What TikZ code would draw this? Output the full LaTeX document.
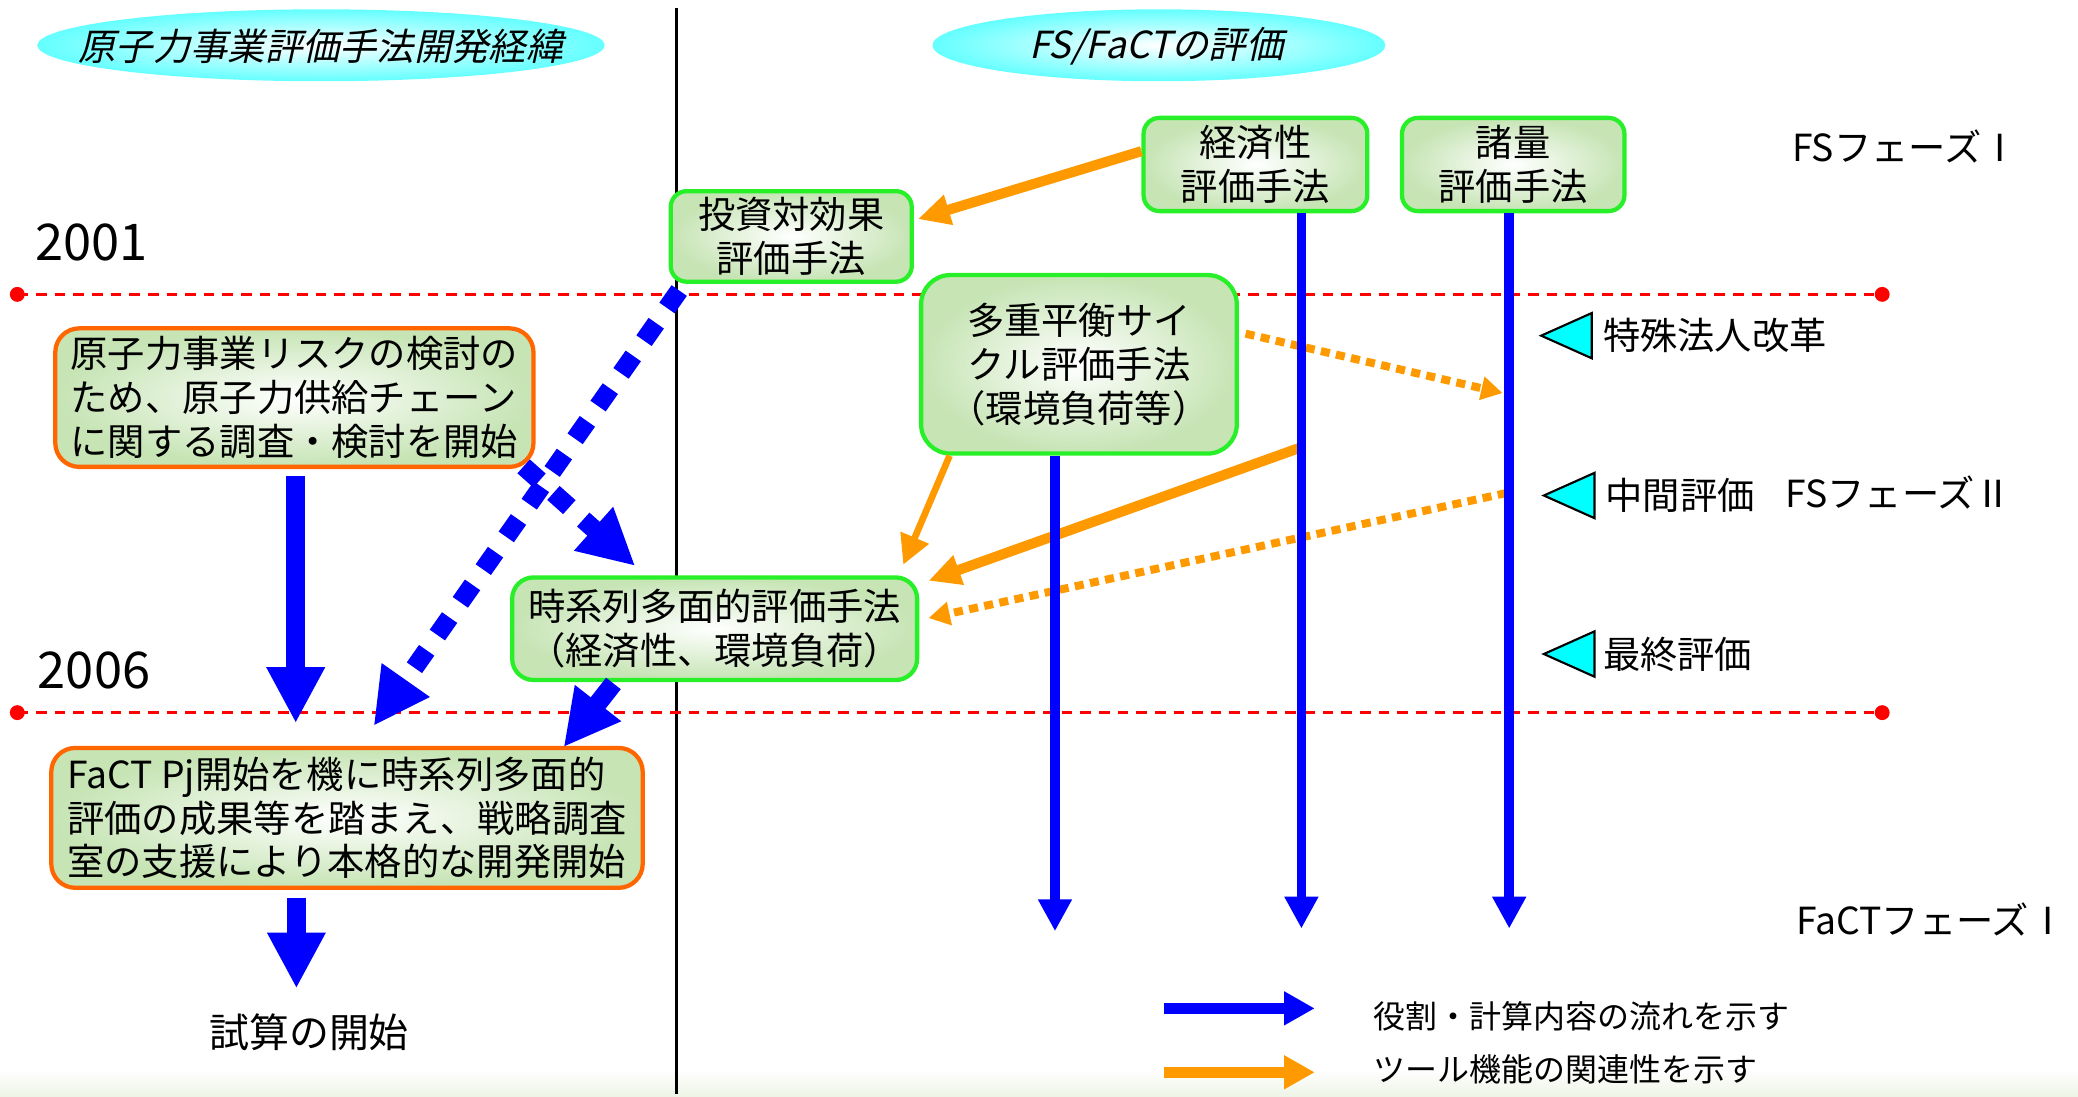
\documentclass[tikz,border=0pt]{standalone}
\usepackage{fontspec}
\setmainfont{Noto Sans CJK JP}
\newfontfamily\jpit{Noto Sans CJK JP}[FakeSlant=0.22]
\usetikzlibrary{arrows.meta,calc}
\definecolor{gborder}{RGB}{40,240,40}
\definecolor{oborder}{RGB}{255,102,0}
\definecolor{boxgreen}{RGB}{198,228,180}
\definecolor{arrorange}{RGB}{255,153,0}
\definecolor{arrblue}{RGB}{0,0,255}
\definecolor{ellcyan}{RGB}{100,255,255}
\definecolor{tricyan}{RGB}{0,255,255}
\definecolor{dashred}{RGB}{255,0,0}
\definecolor{bottomtint}{RGB}{238,244,230}
\begin{document}
\begin{tikzpicture}[x=0.5pt,y=-0.5pt,
  box/.style={rounded corners=6pt,line width=1.6pt,inner color=white,outer color=boxgreen,inner sep=0pt,align=center,font=\fontsize{14}{16.5}\selectfont},
  gbox/.style={box,draw=gborder},
  obox/.style={box,draw=oborder},
  lbl/.style={inner sep=0pt,font=\fontsize{14}{14}\selectfont,anchor=west},
  yearlbl/.style={inner sep=0pt,font=\fontsize{19}{19}\selectfont,anchor=west},
  leglbl/.style={inner sep=0pt,font=\fontsize{12}{12}\selectfont,anchor=west},
  titlelbl/.style={inner sep=0pt,font=\jpit\fontsize{14}{14}\selectfont},
  bluebig/.style={draw=arrblue,line width=7pt,-{Triangle[width=20.5pt,length=21pt]}},
  bluedash/.style={bluebig,dash pattern=on 8pt off 7pt},
  bluethin/.style={draw=arrblue,line width=3.6pt,-{Triangle[width=12pt,length=12pt]}},
  orthick/.style={draw=arrorange,line width=3.8pt,-{Triangle[width=11pt,length=12pt]}},
  orthin/.style={draw=arrorange,line width=2.5pt,-{Triangle[width=11pt,length=11pt]}},
  ordot/.style={draw=arrorange,line width=3pt,dash pattern=on 3.4pt off 2.4pt,-{Triangle[width=8.5pt,length=8pt]}},
  legblue/.style={draw=arrblue,line width=4pt,-{Triangle[width=12pt,length=11.5pt]}},
  legorange/.style={draw=arrorange,line width=4pt,-{Triangle[width=12pt,length=11.5pt]}},
  reddash/.style={draw=dashred,line width=1.1pt,dash pattern=on 4pt off 3pt},
  marker/.style={draw=black,line width=0.8pt,fill=tricyan,line join=miter},
]
\useasboundingbox (0,0) rectangle (1560,823);
% faint bottom tint
\shade[top color=white,bottom color=bottomtint] (0,803) rectangle (1560,823);

% title ellipses
\shade[inner color=white,outer color=ellcyan] (241,34) ellipse [x radius=106.5pt,y radius=13.5pt];
\node[titlelbl] (titleL) at (241,35) {原子力事業評価手法開発経緯};
\shade[inner color=white,outer color=ellcyan] (870,34) ellipse [x radius=85pt,y radius=13.5pt];
\node[titlelbl] (titleR) at (868,35) {FS/FaCTの評価};

% divider
\coordinate (divT) at (508,6);
\coordinate (divB) at (508,821);
\draw[line width=1.1pt] (divT) -- (divB);

% year lines
\coordinate (y1L) at (13,221);
\coordinate (y1R) at (1413,221);
\coordinate (y2L) at (13,535);
\coordinate (y2R) at (1413,535);
\draw[reddash] (y1L) -- (y1R);
\draw[reddash] (y2L) -- (y2R);
\fill[dashred] (y1L) circle (2.8pt) (y1R) circle (2.8pt) (y2L) circle (2.8pt) (y2R) circle (2.8pt);
\node[yearlbl] (yr1) at (26,182) {2001};
\node[yearlbl] (yr2) at (28,503) {2006};

% boxes
\node[gbox,minimum width=90.5pt,minimum height=34pt] (toushi) at (594,177.5) {投資対効果\\評価手法};
\node[gbox,minimum width=84pt,minimum height=35pt] (keizai) at (942.5,123.5) {経済性\\評価手法};
\node[gbox,minimum width=83.5pt,minimum height=35pt] (shoryo) at (1136,123.5) {諸量\\評価手法};
\node[gbox,rounded corners=11pt,minimum width=118.5pt,minimum height=67pt] (tajuu) at (810,273.5) {多重平衡サイ\\クル評価手法\\（環境負荷等）};
\node[obox,rounded corners=9pt,align=left,minimum width=179.5pt,minimum height=52pt] (genshi) at (221,298.5) {原子力事業リスクの検討の\\ため、原子力供給チェーン\\に関する調査・検討を開始};
\node[gbox,rounded corners=8pt,minimum width=152pt,minimum height=38.5pt] (jikei) at (536.5,472) {時系列多面的評価手法\\（経済性、環境負荷）};
\node[obox,rounded corners=9pt,align=left,minimum width=222pt,minimum height=52.5pt] (fact) at (260.5,614) {FaCT Pj開始を機に時系列多面的\\評価の成果等を踏まえ、戦略調査\\室の支援により本格的な開発開始};
\node[inner sep=0pt,font=\fontsize{15}{15}\selectfont] (shisan) at (232,775) {試算の開始};

% right labels
\node[lbl] (fs1) at (1345,110) {FSフェーズⅠ};
\node[lbl] (fs2) at (1340,370) {FSフェーズⅡ};
\node[lbl] (fact1) at (1348,690) {FaCTフェーズⅠ};
\node[lbl] (ev1) at (1203,252) {特殊法人改革};
\node[lbl] (ev2) at (1205,372) {中間評価};
\node[lbl] (ev3) at (1203,491) {最終評価};
\draw[marker] (1157,252) -- (1195,235) -- (1195,269) -- cycle;
\draw[marker] (1159,372) -- (1197,355) -- (1197,389) -- cycle;
\draw[marker] (1159,491) -- (1197,474) -- (1197,508) -- cycle;

% line anchors
\coordinate (tl) at ($(tajuu.south)+(-18,0)$);
\coordinate (kl) at ($(keizai.south)+(34.5,0)$);
\coordinate (sl) at ($(shoryo.south)+(-3,0)$);
\coordinate (kc) at ($(kl)+(-1,176)$);
\coordinate (sd) at ($(sl)+(-2,210)$);
\coordinate (se) at ($(sl)+(-5,135)$);

% orange arrows
\draw[orthick] ($(keizai.west)+(0,-10)$) -- ($(toushi.east)+(3,-13)$);
\draw[orthin] ($(tajuu.south west)+(23,0)$) -- ($(jikei.north east)+(-12,-8)$);
\draw[orthick] (kc) -- ($(jikei.east)+(7,-36)$);
\draw[ordot] (sd) -- ($(jikei.east)+(7,-8)$);
\draw[ordot] ($(tajuu.east)+(5,-23)$) -- (se);

% blue vertical lines
\draw[bluethin] (tl) -- ($(tl)+(0,357)$);
\draw[bluethin] (kl) -- ($(kl)+(0,537)$);
\draw[bluethin] (sl) -- ($(sl)+(0,537)$);

% blue big arrows
\draw[bluebig] ($(genshi.south)+(1,5)$) -- ($(genshi.south |- fact.north)+(1,-17)$);
\draw[bluebig] ($(fact.south)+(-38,6)$) -- ($(fact.south)+(-38,74)$);
\draw[bluedash] ($(toushi.south west)+(8,5)$) -- ($(fact.north)+(20,-15)$);
\draw[bluedash] ($(genshi.south east)+(-9,-2)$) -- ($(jikei.north west)+(94,-7)$);
\draw[bluebig] ($(jikei.south)+(-76,1)$) -- ($(fact.north east)+(-61,1)$);

% legend
\node[leglbl] (leg1) at (1031,763) {役割・計算内容の流れを示す};
\node[leglbl] (leg2) at (1031,803) {ツール機能の関連性を示す};
\draw[legblue] ($(leg1.west)+(-157,-6)$) -- ($(leg1.west)+(-44,-6)$);
\draw[legorange] ($(leg2.west)+(-157,2)$) -- ($(leg2.west)+(-44,2)$);
\end{tikzpicture}
\end{document}
